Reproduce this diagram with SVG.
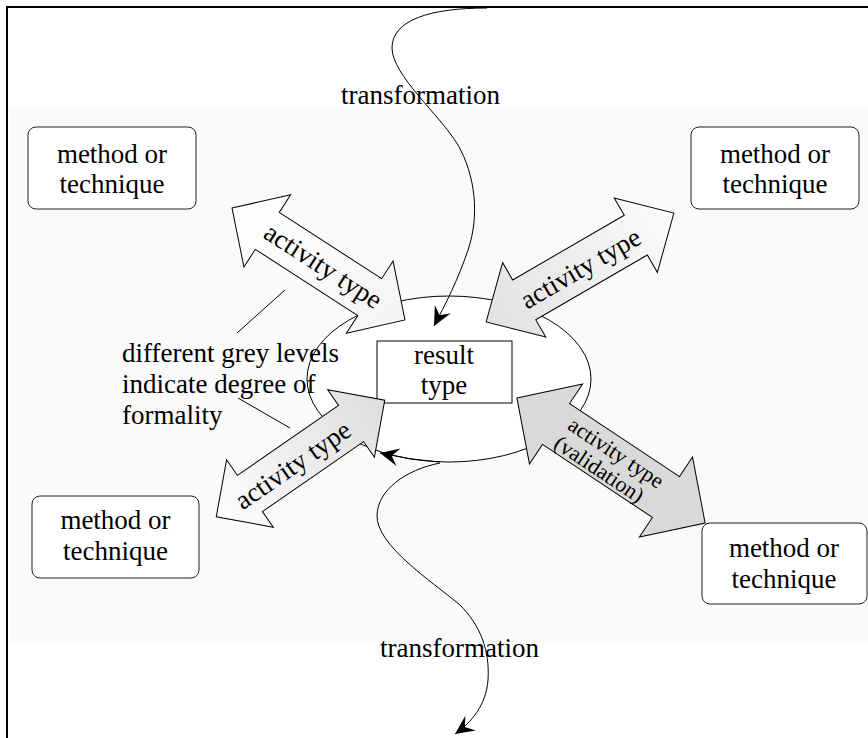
<svg xmlns="http://www.w3.org/2000/svg" width="868" height="738" viewBox="0 0 868 738">
<style>
text{font-family:"Liberation Serif","Times New Roman",serif;fill:#000}
.t27{font-size:27px}
.c{text-anchor:middle}
.box{fill:#fff;stroke:#222;stroke-width:1}
.arr{stroke:#000;stroke-width:1}
.ln{fill:none;stroke:#000;stroke-width:1}
</style>
<defs>
<marker id="head" viewBox="-20 -10 22 20" markerWidth="22" markerHeight="20" refX="0" refY="0" orient="auto" markerUnits="userSpaceOnUse">
<path d="M0,0 L-19,-9 L-12,0 L-19,9 Z" fill="#000"/>
</marker>
<linearGradient id="g1" x1="0" y1="0" x2="1" y2="0">
<stop offset="0" stop-color="#ffffff"/><stop offset="1" stop-color="#f4f4f4"/>
</linearGradient>
<linearGradient id="g2" x1="0" y1="0" x2="1" y2="0">
<stop offset="0" stop-color="#e2e2e2"/><stop offset="1" stop-color="#fbfbfb"/>
</linearGradient>
<linearGradient id="g3" x1="0" y1="0" x2="1" y2="0">
<stop offset="0" stop-color="#fdfdfd"/><stop offset="1" stop-color="#dedede"/>
</linearGradient>
</defs>

<rect x="7" y="7" width="900" height="800" fill="#fff" stroke="#000" stroke-width="2"/>
<rect x="9" y="107" width="859" height="536" fill="#fafafa"/>

<g id="result">
<ellipse cx="449" cy="379" rx="142" ry="83" fill="#fff" stroke="#000" stroke-width="1"/>
<rect x="377" y="341" width="135" height="62" fill="#fff" stroke="#000" stroke-width="1"/>
<text class="t27 c" x="444" y="364">result</text>
<text class="t27 c" x="444" y="394">type</text>
</g>

<g id="connectors">
<path class="ln" d="M487,8 C430,8 392,20 392,48 C392,75 440,115 458,145 C475,175 480,215 468,250 C458,280 445,305 434,326" marker-end="url(#head)"/>
<path class="ln" d="M440,463 C405,470 378,490 377,515 C376,545 430,580 460,605 C480,625 490,650 488,680 C486,705 472,722 455,734" marker-end="url(#head)"/>
<path class="ln" d="M440,462 Q410,460 380,453" marker-end="url(#head)"/>
<line class="ln" x1="285" y1="290" x2="237" y2="333"/>
<line class="ln" x1="238" y1="398" x2="290" y2="428"/>
</g>

<g id="arrow1" transform="translate(318.5,264) rotate(32.9)">
<polygon class="arr" fill="url(#g1)" points="-103,0 -61,-43 -61,-22 61,-22 61,-43 103,0 61,43 61,22 -61,22 -61,43"/>
<text class="t27 c" x="5" y="8">activity type</text>
</g>
<g id="arrow2" transform="translate(580,267.5) rotate(-30.1)">
<polygon class="arr" fill="url(#g2)" points="-108.5,0 -64.5,-43 -64.5,-23 64.5,-23 64.5,-43 108.5,0 64.5,43 64.5,23 -64.5,23 -64.5,43"/>
<text class="t27 c" x="0" y="10">activity type</text>
</g>
<g id="arrow3" transform="translate(300.5,458.5) rotate(-34.7)">
<polygon class="arr" fill="url(#g3)" points="-102.5,0 -61.5,-41 -61.5,-22 61.5,-22 61.5,-41 102.5,0 61.5,41 61.5,22 -61.5,22 -61.5,41"/>
<text class="t27 c" x="-10" y="10">activity type</text>
</g>
<g id="arrow4" transform="translate(611,460.5) rotate(33.6)">
<polygon class="arr" fill="#d9d9d9" points="-113,0 -66,-48 -66,-24.5 66,-24.5 66,-48 113,0 66,48 66,24.5 -66,24.5 -66,48"/>
<text class="c" style="font-size:22px" x="0" y="-2">activity type</text>
<text class="c" style="font-size:22px" x="-5" y="21">(validation)</text>
</g>

<g id="mt1">
<rect class="box" x="28" y="127" width="168" height="82" rx="8"/>
<text class="t27 c" x="112" y="163">method or</text>
<text class="t27 c" x="112" y="193">technique</text>
</g>
<g id="mt2">
<rect class="box" x="691" y="127" width="168" height="82" rx="8"/>
<text class="t27 c" x="775" y="163">method or</text>
<text class="t27 c" x="775" y="193">technique</text>
</g>
<g id="mt3">
<rect class="box" x="32" y="496" width="167" height="82" rx="8"/>
<text class="t27 c" x="115.5" y="529">method or</text>
<text class="t27 c" x="115.5" y="560">technique</text>
</g>
<g id="mt4">
<rect class="box" x="702" y="523" width="165" height="81" rx="8"/>
<text class="t27 c" x="784" y="557">method or</text>
<text class="t27 c" x="784" y="588">technique</text>
</g>

<g id="labels">
<text class="t27" x="341" y="104">transformation</text>
<text class="t27" x="380" y="657">transformation</text>
<text class="t27" x="122" y="362">different grey levels</text>
<text class="t27" x="122" y="393">indicate degree of</text>
<text class="t27" x="122" y="424">formality</text>
</g>
</svg>
